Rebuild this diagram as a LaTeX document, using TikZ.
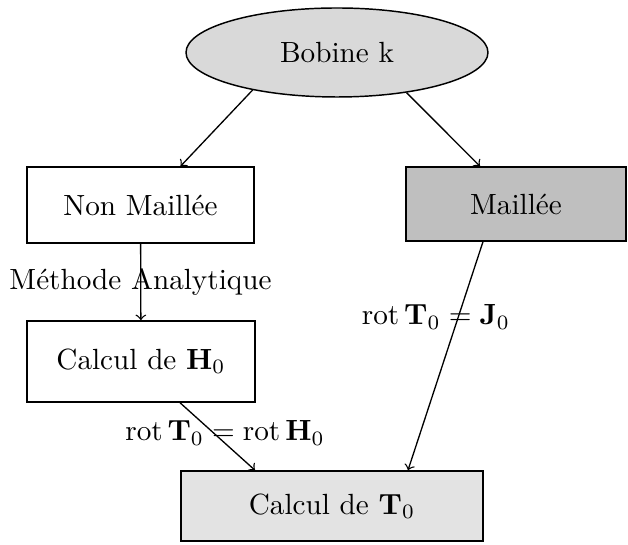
\documentclass[tikz,border=0pt]{standalone}
\usetikzlibrary{shapes.geometric,calc}
\newcommand\pxu{0.3425pt}
\begin{document}
\begin{tikzpicture}[x=0.3425pt,y=-0.3425pt,
  boxnode/.style={draw,line width=0.5pt,inner sep=0pt,font=\normalsize},
  ellnode/.style={draw,ellipse,line width=0.5pt,inner sep=0pt,fill=gray!30,
     minimum width={302*\pxu},minimum height={89*\pxu}},
  conn/.style={->,line width=0.45pt},
  lbl/.style={anchor=base,inner sep=0pt}]
\useasboundingbox (0,0) rectangle (628,545);
\node[ellnode] (bob) at (337,52.5) {Bobine k};
\node[boxnode,minimum width={227*\pxu},minimum height={76*\pxu}] (nm) at (140.5,205) {Non Maillée};
\node[boxnode,fill=gray!50,minimum width={220*\pxu},minimum height={74*\pxu}] (m) at (516,204) {Maillée};
\node[boxnode,minimum width={228*\pxu},minimum height={81*\pxu}] (h0) at (141,361.5) {Calcul de $\mathbf{H}_0$};
\node[boxnode,fill=gray!22,minimum width={302*\pxu},minimum height={70*\pxu}] (t0) at (332,506) {Calcul de $\mathbf{T}_0$};
\draw[conn] (bob.204.6) -- ($(nm.north)+(40,0)$);
\draw[conn] (bob.330.9) -- ($(m.north)+(-36,0)$);
\draw[conn] (nm) -- (h0);
\draw[conn] ($(h0.south)+(39,0)$) -- ($(t0.north)+(-77,0)$);
\draw[conn] ($(m.south)+(-33,0)$) -- ($(t0.north)+(76,0)$);
\node[lbl] (lma) at (140.5,290) {Méthode Analytique};
\node[lbl] (lj) at (436,325) {$\mathrm{rot}\,\mathbf{T}_0=\mathbf{J}_0$};
\node[lbl] (lh) at (225,441) {$\mathrm{rot}\,\mathbf{T}_0=\mathrm{rot}\,\mathbf{H}_0$};
\end{tikzpicture}
\end{document}
